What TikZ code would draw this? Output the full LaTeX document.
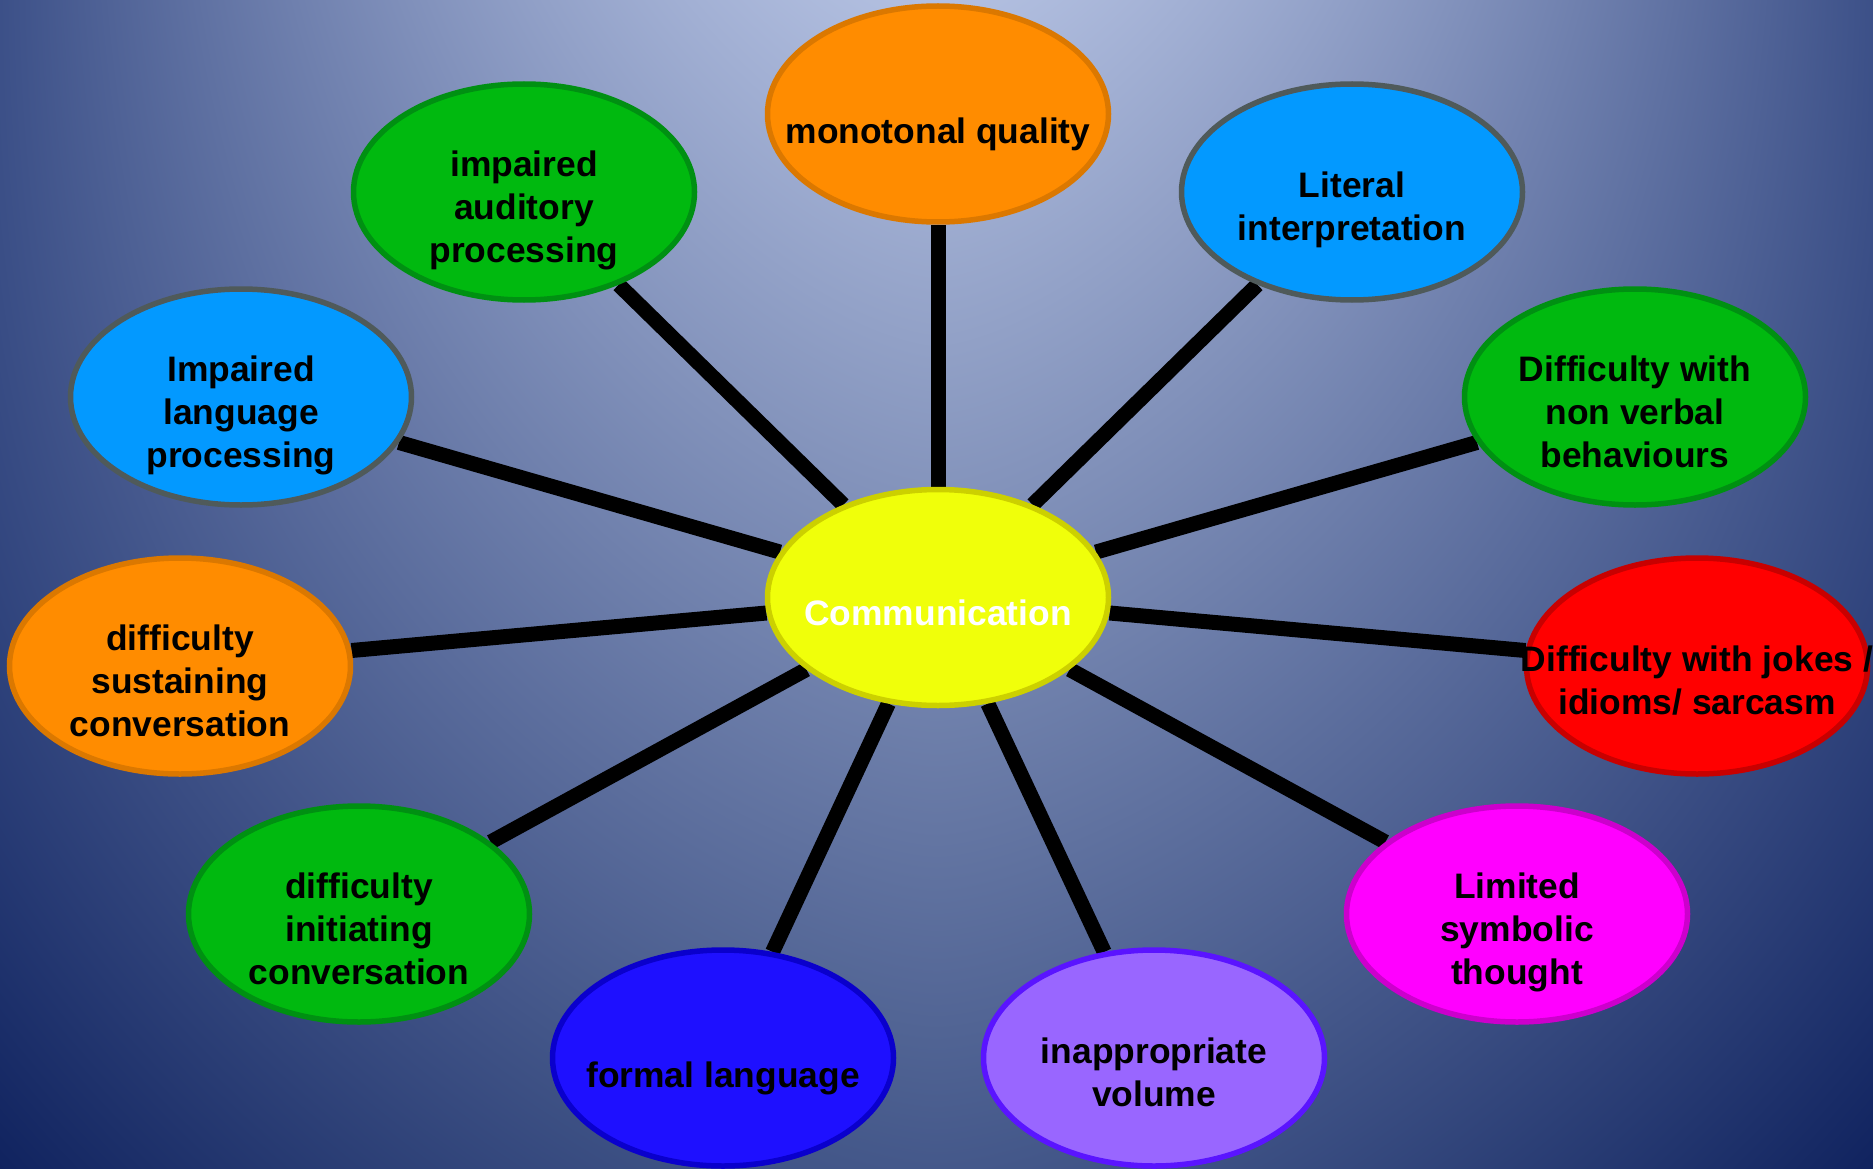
\documentclass[tikz,border=0pt]{standalone}
\usepackage{fontspec}
\setmainfont{Liberation Sans}
\usetikzlibrary{shapes.geometric}
\pgfdeclarelayer{bg}
\pgfdeclarelayer{links}
\pgfsetlayers{bg,links,main}
\pgfdeclarefunctionalshading{slidebg}{\pgfpointorigin}{\pgfpoint{100bp}{100bp}}{}{
 25 sub 50 div 1 exch sub exch 25 sub 50 div 2 mul 1 sub abs dup sqrt mul
 1 index -0.431 mul 0.698 add 2 index dup mul -0.172 mul 0.235 add 1 index sub 2 index mul add
 2 index -0.404 mul 0.749 add 3 index dup mul -0.177 mul 0.314 add 1 index sub 3 index mul add
 3 index -0.337 mul 0.878 add 4 index dup mul -0.160 mul 0.533 add 1 index sub 4 index mul add
 5 -2 roll pop pop
}
\definecolor{yelF}{HTML}{F0FF0A}\definecolor{yelD}{HTML}{CCD000}
\definecolor{oraF}{HTML}{FF8C00}\definecolor{oraD}{HTML}{DB7800}
\definecolor{grnF}{HTML}{00B90F}\definecolor{grnD}{HTML}{009012}
\definecolor{bluF}{HTML}{0399FF}\definecolor{bluD}{HTML}{4F5A5A}
\definecolor{redF}{HTML}{FF0000}\definecolor{redD}{HTML}{C80000}
\definecolor{magF}{HTML}{FF00FF}\definecolor{magD}{HTML}{CC00CC}
\definecolor{nvyF}{HTML}{1E10FF}\definecolor{nvyD}{HTML}{0A00CC}
\definecolor{vioF}{HTML}{9966FF}\definecolor{vioD}{HTML}{5A14FF}
\tikzset{
  bub/.style={ellipse, minimum width=341pt, minimum height=216pt, inner sep=0pt, line width=5.5pt},
  lbl/.style={font=\fontsize{35.4}{43}\selectfont\bfseries, align=center, inner sep=0pt, text depth=0pt, anchor=south},
  link/.style={line width=15pt, black}
}
\begin{document}
\begin{tikzpicture}[x=1pt,y=-1pt]
\useasboundingbox (0,0) rectangle (1873,1169);
\begin{pgfonlayer}{bg}
\shade[shading=slidebg] (0,0) rectangle (1873,1169);
\end{pgfonlayer}
% ellipses
\node[bub, fill=yelF, draw=yelD] (c) at (938,597.5) {};
\node[bub, fill=oraF, draw=oraD] (e1) at (938,114) {};
\node[bub, fill=grnF, draw=grnD] (e2) at (524,192) {};
\node[bub, fill=bluF, draw=bluD] (e3) at (1352,192) {};
\node[bub, fill=bluF, draw=bluD] (e4) at (241,397) {};
\node[bub, fill=grnF, draw=grnD] (e5) at (1635,397) {};
\node[bub, fill=oraF, draw=oraD] (e6) at (180,666) {};
\node[bub, fill=redF, draw=redD] (e7) at (1697,666) {};
\node[bub, fill=grnF, draw=grnD] (e8) at (359,914) {};
\node[bub, fill=magF, draw=magD] (e9) at (1517,914) {};
\node[bub, fill=nvyF, draw=nvyD] (e10) at (723,1058) {};
\node[bub, fill=vioF, draw=vioD] (e11) at (1154,1058) {};
% labels
\node[lbl, text=white] (t0) at ([yshift=-28pt]c.center) {Communication};
\node[lbl] (t1) at ([yshift=-30pt]e1.center) {monotonal quality};
\node[lbl] (t2) at ([yshift=-71pt]e2.center) {impaired\\auditory\\processing};
\node[lbl] (t3) at ([yshift=-49pt]e3.center) {Literal\\interpretation};
\node[lbl] (t4) at ([yshift=-71pt]e4.center) {Impaired\\language\\processing};
\node[lbl] (t5) at ([yshift=-71pt]e5.center) {Difficulty with\\non verbal\\behaviours};
\node[lbl] (t6) at ([yshift=-71pt]e6.center) {difficulty\\sustaining\\conversation};
\node[lbl] (t7) at ([yshift=-49pt]e7.center) {Difficulty with jokes /\\idioms/ sarcasm};
\node[lbl] (t8) at ([yshift=-71pt]e8.center) {difficulty\\initiating\\conversation};
\node[lbl] (t9) at ([yshift=-71pt]e9.center) {Limited\\symbolic\\thought};
\node[lbl] (t10) at ([yshift=-30pt]e10.center) {formal language};
\node[lbl] (t11) at ([yshift=-49pt]e11.center) {inappropriate\\volume};
% connectors
\begin{pgfonlayer}{links}
\foreach \k in {e1,e2,e3,e4,e5,e6,e7,e8,e9,e10,e11}
  \draw[link] (c) -- (\k);
\end{pgfonlayer}
\end{tikzpicture}
\end{document}
